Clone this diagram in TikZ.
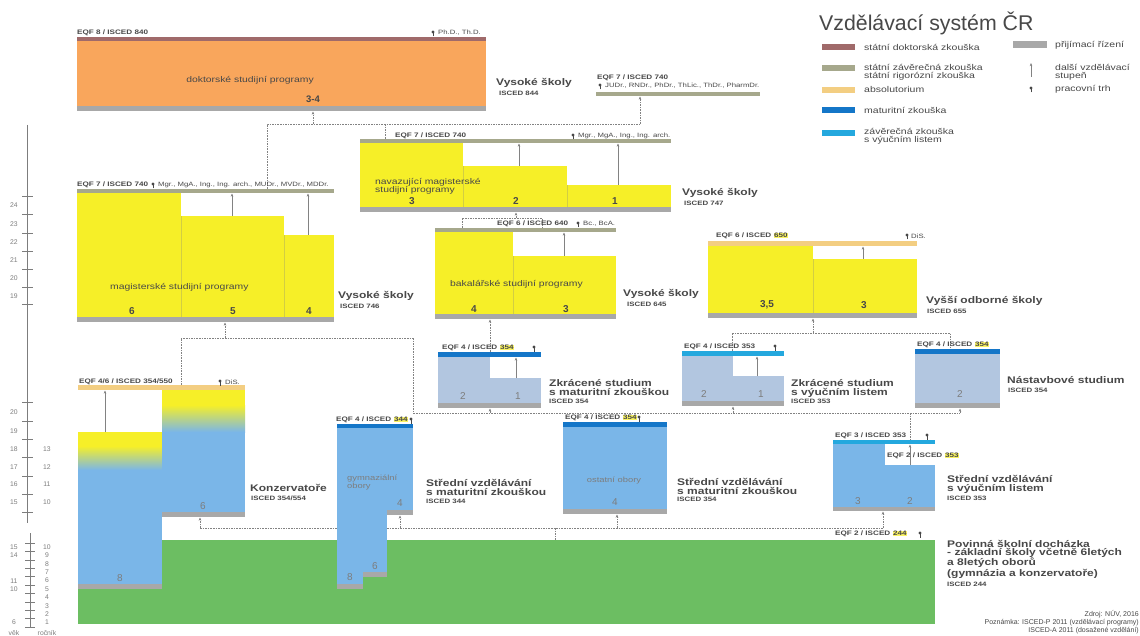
\documentclass[tikz,border=0pt]{standalone}
\usepackage{fontspec}
\setmainfont{Liberation Sans}
\newfontfamily\siroke[FakeStretch=1.25]{Liberation Sans}
\usepackage{xcolor}
\usetikzlibrary{positioning,arrows.meta,calc}
\definecolor{ink}{RGB}{72,72,72}
\definecolor{inklight}{RGB}{125,125,125}
\definecolor{doktor}{RGB}{160,106,106}
\definecolor{statni}{RGB}{166,168,140}
\definecolor{absol}{RGB}{243,206,130}
\definecolor{matur}{RGB}{20,118,200}
\definecolor{vyucni}{RGB}{36,168,222}
\definecolor{prijem}{RGB}{168,168,168}
\definecolor{phdfill}{RGB}{249,166,92}
\definecolor{vsfill}{RGB}{246,239,40}
\definecolor{ssfill}{RGB}{122,182,232}
\definecolor{zkfill}{RGB}{178,198,224}
\definecolor{zsfill}{RGB}{108,190,98}
\definecolor{hlfill}{RGB}{250,244,100}
\definecolor{linka}{RGB}{130,130,130}
\newcommand{\hl}[1]{{\setlength{\fboxsep}{0.5pt}\colorbox{hlfill}{#1}}}
\tikzset{
  eqf/.style={anchor=west, inner sep=0pt, font=\siroke\fontsize{6.5}{7}\selectfont\bfseries, text=ink},
  drobne/.style={anchor=west, inner sep=0pt, font=\siroke\fontsize{6.2}{7}\selectfont, text=ink},
  skola/.style={anchor=west, inner sep=0pt, align=left, font=\siroke\fontsize{9.6}{9}\selectfont\bfseries, text=ink},
  isced/.style={anchor=west, inner sep=0pt, font=\siroke\fontsize{6.3}{6}\selectfont\bfseries, text=ink},
  roky/.style={inner sep=0pt, font=\fontsize{10}{10}\selectfont\bfseries, text=ink},
  rokysv/.style={inner sep=0pt, font=\fontsize{10}{10}\selectfont, text=inklight},
  program/.style={anchor=west, inner sep=0pt, align=left, font=\siroke\fontsize{8.3}{8.3}\selectfont, text=ink},
  programsv/.style={anchor=west, inner sep=0pt, align=left, font=\siroke\fontsize{7.5}{6}\selectfont, text=inklight},
  legenda/.style={anchor=west, inner sep=0pt, align=left, font=\siroke\fontsize{8.4}{8}\selectfont, text=ink},
  osa/.style={line width=0.5pt, draw=inklight},
  osanum/.style={inner sep=0pt, font=\fontsize{6.8}{7}\selectfont, text=inklight},
  linka/.style={line width=0.5pt, draw=linka, dash pattern=on 1.6pt off 1pt},
  vzhuru/.style={linka, -{Stealth[length=3.2pt,width=2.6pt]}},
  sipka/.style={line width=0.5pt, draw=linka, -{Stealth[length=3.2pt,width=2.6pt]}},
  predel/.style={line width=0.4pt, draw=vsfill!70!gray},
  trh/.pic={\draw[ink, line width=0.6pt] (0,3.5) -- (0,0); \fill[ink] (0,-1) circle (1.6);},
}
\begin{document}
\begin{tikzpicture}[x=1pt,y=-1pt]
  \useasboundingbox (0,0) rectangle (1140,636);
  \fill[white] (0,0) rectangle (1140,636);

  % nadpis a legenda
  \node[anchor=west, inner sep=0pt, font=\fontsize{21.3}{22}\selectfont, text=ink] (nadpis) at (819,23) {Vzdělávací systém ČR};
  \fill[doktor] (822,44) rectangle (855,50);
  \node[legenda] (lg1) at (864,47) {státní doktorská zkouška};
  \fill[statni] (822,65) rectangle (855,71);
  \node[legenda] (lg2) at (864,72) {státní závěrečná zkouška\\státní rigorózní zkouška};
  \fill[absol] (822,87) rectangle (855,93);
  \node[legenda] (lg3) at (864,90) {absolutorium};
  \fill[matur] (822,107) rectangle (855,113);
  \node[legenda] (lg4) at (864,110) {maturitní zkouška};
  \fill[vyucni] (822,130) rectangle (855,136);
  \node[legenda] (lg5) at (864,136) {závěrečná zkouška\\s výučním listem};
  \fill[prijem] (1013,41) rectangle (1047,48);
  \node[legenda] (lg6) at (1055,45) {přijímací řízení};
  \coordinate (lgdole) at (1031,77);
  \coordinate (lgnahore) at (1031,63);
  \draw[sipka] (lgdole) -- (lgnahore);
  \node[legenda] (lg7) at (1055,72) {další vzdělávací\\stupeň};
  \pic at (1031,89) {trh};
  \node[legenda] (lg8) at (1055,89) {pracovní trh};

  % osy
  \draw[osa] (27,125) -- (27,523);
  \foreach \y in {196,214,233,251,269,287,304,402,421,439,457,476,494,512}
    \draw[osa] (22,\y) -- (33,\y);
  \foreach \v/\y in {24/205,23/224,22/242,21/260,20/278,19/296,20/412,19/431,18/449,17/467,16/484,15/502}
    \node[osanum] (vek\y) at (14,\y) {\v};
  \foreach \v/\y in {13/449,12/467,11/484,10/502}
    \node[osanum] (roc\y) at (47,\y) {\v};
  \draw[osa] (30,533) -- (30,628);
  \foreach \k in {0,...,10}
    \draw[osa] (25,{543+8.4*\k}) -- (35,{543+8.4*\k});
  \foreach \v/\y in {15/547,14/555,11/581,10/589,6/622}
    \node[osanum] (zvek\y) at (14,\y) {\v};
  \foreach \r in {1,...,10}
    \node[osanum] (zroc\r) at (47,{622.6-8.4*(\r-1)}) {\r};
  \node[osanum] (vek) at (14,633) {věk};
  \node[osanum] (rocnik) at (47,633) {ročník};

  % spojnice
  \coordinate (j1) at (267,124);   \coordinate (j2) at (313,124);
  \coordinate (j3) at (385,124);   \coordinate (j4) at (640,124);
  \coordinate (mgrout) at (267,189); \coordinate (phdin) at (313,111.5);
  \coordinate (navout) at (385,139); \coordinate (judrin) at (640,96.5);
  \draw[linka] (mgrout) -- (j1) -- (j4);
  \draw[linka] (j3) -- (navout);
  \draw[vzhuru] (j2) -- (phdin);
  \draw[vzhuru] (j4) -- (judrin);
  \coordinate (b1) at (462,228); \coordinate (b2) at (462,218);
  \coordinate (b3) at (542,218); \coordinate (b4) at (542,228);
  \coordinate (b5) at (516,218); \coordinate (navin) at (516,212.5);
  \draw[linka] (b1) -- (b2) -- (b3) -- (b4);
  \draw[vzhuru] (b5) -- (navin);
  \coordinate (k1) at (181,338); \coordinate (k2) at (225,338); \coordinate (k3) at (413,338);
  \coordinate (konzout) at (181,385); \coordinate (mgrin) at (225,322.5);
  \draw[linka] (konzout) -- (k1) -- (k3);
  \draw[vzhuru] (k2) -- (mgrin);
  \coordinate (zk1out) at (490,352); \coordinate (bcin) at (490,319.5);
  \draw[vzhuru] (zk1out) -- (bcin);
  \coordinate (v1) at (732,333); \coordinate (v2) at (813,333); \coordinate (v3) at (950,333);
  \coordinate (zk2out) at (732,351); \coordinate (vosin) at (813,318.5); \coordinate (nasout) at (950,349);
  \draw[linka] (zk2out) -- (v1) -- (v3) -- (nasout);
  \draw[vzhuru] (v2) -- (vosin);
  \coordinate (s1) at (413,413); \coordinate (s2) at (490,413); \coordinate (s3) at (733,413);
  \coordinate (s4) at (910,413); \coordinate (s5) at (960,413);
  \coordinate (zk1in) at (490,408.5); \coordinate (zk2in) at (733,406.5);
  \coordinate (nasin) at (960,408.5); \coordinate (ucout) at (910,440);
  \draw[linka] (k3) -- (s1) -- (s5);
  \draw[linka] (s4) -- (ucout);
  \draw[vzhuru] (s2) -- (zk1in);
  \draw[vzhuru] (s3) -- (zk2in);
  \draw[vzhuru] (s5) -- (nasin);
  \coordinate (p1) at (200,528); \coordinate (p2) at (400,528); \coordinate (p3) at (555,528);
  \coordinate (p4) at (617,528); \coordinate (p5) at (883,528); \coordinate (zsout) at (555,540);
  \coordinate (konzin) at (200,517.5); \coordinate (gymin) at (400,515.5);
  \coordinate (ostin) at (617,514.5); \coordinate (ucin) at (883,511.5);
  \draw[linka] (p1) -- (p5);
  \draw[linka] (p3) -- (zsout);
  \draw[vzhuru] (p1) -- (konzin);
  \draw[vzhuru] (p2) -- (gymin);
  \draw[vzhuru] (p4) -- (ostin);
  \draw[vzhuru] (p5) -- (ucin);

  % doktorske
  \fill[doktor] (77,37) rectangle (486,41);
  \fill[phdfill] (77,41) rectangle (486,106);
  \fill[prijem] (77,106) rectangle (486,111);
  \node[eqf] (phdeqf) at (77,33) {EQF 8 / ISCED 840};
  \pic at (433,33) {trh};
  \node[drobne] (phdtit) at (438,33) {Ph.D., Th.D.};
  \node[program, anchor=center] (phdprog) at (250,80) {doktorské studijní programy};
  \node[roky, font=\fontsize{9.5}{9}\selectfont\bfseries] (phdroky) at (313,99) {3-4};
  \node[skola] (phdvs) at (496,83) {Vysoké školy};
  \node[isced] (phdis) at (499,93) {ISCED 844};

  % JUDr.
  \fill[statni] (596,92) rectangle (760,96);
  \node[eqf] (rigeqf) at (597,78) {EQF 7 / ISCED 740};
  \pic at (600,86) {trh};
  \node[drobne] (rigtit) at (605,86) {JUDr., RNDr., PhDr., ThLic., ThDr., PharmDr.};

  % navazujici magisterske
  \fill[statni] (360,139) rectangle (671,143);
  \fill[vsfill] (360,143) rectangle (463,207);
  \fill[vsfill] (463,166) rectangle (567,207);
  \fill[vsfill] (567,185) rectangle (671,207);
  \draw[predel] (463,166) -- (463,207);
  \draw[predel] (567,185) -- (567,207);
  \fill[prijem] (360,207) rectangle (671,212);
  \coordinate (nav2) at (519,166); \coordinate (nav2t) at (519,143.5);
  \coordinate (nav1) at (618,185); \coordinate (nav1t) at (618,143.5);
  \draw[sipka] (nav2) -- (nav2t);
  \draw[sipka] (nav1) -- (nav1t);
  \node[eqf] (naveqf) at (395,136) {EQF 7 / ISCED 740};
  \pic at (573,136) {trh};
  \node[drobne] (navtit) at (578,136) {Mgr., MgA., Ing., Ing. arch.};
  \node[program] (navprog) at (375,186) {navazující magisterské\\studijní programy};
  \node[roky] (navr3) at (412,201) {3};
  \node[roky] (navr2) at (516,201) {2};
  \node[roky] (navr1) at (615,201) {1};
  \node[skola] (navvs) at (682,193) {Vysoké školy};
  \node[isced] (navis) at (684,203) {ISCED 747};

  % bakalarske
  \fill[statni] (435,228) rectangle (616,232);
  \fill[vsfill] (435,232) rectangle (513,314);
  \fill[vsfill] (513,256) rectangle (616,314);
  \draw[predel] (513,256) -- (513,314);
  \fill[prijem] (435,314) rectangle (616,319);
  \coordinate (bc3) at (564,256); \coordinate (bc3t) at (564,232.5);
  \draw[sipka] (bc3) -- (bc3t);
  \node[eqf] (bceqf) at (497,224) {EQF 6 / ISCED 640};
  \pic at (578,224) {trh};
  \node[drobne] (bctit) at (583,224) {Bc., BcA.};
  \node[program] (bcprog) at (450,284) {bakalářské studijní programy};
  \node[roky] (bcr4) at (474,309) {4};
  \node[roky] (bcr3) at (566,309) {3};
  \node[skola] (bcvs) at (623,294) {Vysoké školy};
  \node[isced] (bcis) at (627,304) {ISCED 645};

  % magisterske
  \fill[statni] (77,189) rectangle (334,193);
  \fill[vsfill] (77,193) rectangle (181,317);
  \fill[vsfill] (181,216) rectangle (284,317);
  \fill[vsfill] (284,235) rectangle (334,317);
  \draw[predel] (181,216) -- (181,317);
  \draw[predel] (284,235) -- (284,317);
  \fill[prijem] (77,317) rectangle (334,322);
  \coordinate (mgr5) at (232,216); \coordinate (mgr5t) at (232,193.5);
  \coordinate (mgr4) at (308,235); \coordinate (mgr4t) at (308,193.5);
  \draw[sipka] (mgr5) -- (mgr5t);
  \draw[sipka] (mgr4) -- (mgr4t);
  \node[eqf] (mgreqf) at (77,185) {EQF 7 / ISCED 740};
  \pic at (153,185) {trh};
  \node[drobne] (mgrtit) at (158,185) {Mgr., MgA., Ing., Ing. arch., MUDr., MVDr., MDDr.};
  \node[program] (mgrprog) at (110,287) {magisterské studijní programy};
  \node[roky] (mgrr6) at (132,311) {6};
  \node[roky] (mgrr5) at (233,311) {5};
  \node[roky] (mgrr4) at (309,311) {4};
  \node[skola] (mgrvs) at (338,296) {Vysoké školy};
  \node[isced] (mgris) at (340,306) {ISCED 746};

  % vyssi odborne
  \fill[absol] (708,241) rectangle (917,246);
  \fill[vsfill] (708,246) rectangle (813,313);
  \fill[vsfill] (813,259) rectangle (917,313);
  \draw[predel] (813,259) -- (813,313);
  \fill[prijem] (708,313) rectangle (917,318);
  \coordinate (vos3) at (863,259); \coordinate (vos3t) at (863,246.5);
  \draw[sipka] (vos3) -- (vos3t);
  \node[eqf] (voseqf) at (716,236) {EQF 6 / ISCED \hl{650}};
  \pic at (907,236) {trh};
  \node[drobne] (vostit) at (911,236) {DiS.};
  \node[roky] (vosr35) at (767,305) {3,5};
  \node[roky] (vosr3) at (864,305) {3};
  \node[skola] (vosvs) at (926,301) {Vyšší odborné školy};
  \node[isced] (vosis) at (927,311) {ISCED 655};

  % zkracene studium s maturitni zkouskou
  \fill[matur] (438,352) rectangle (541,357);
  \fill[zkfill] (438,357) rectangle (490,403);
  \fill[zkfill] (490,378) rectangle (541,403);
  \fill[prijem] (438,403) rectangle (541,408);
  \coordinate (zka1) at (516,378); \coordinate (zka1t) at (516,357.5);
  \draw[sipka] (zka1) -- (zka1t);
  \node[eqf] (zkaeqf) at (442,348) {EQF 4 / ISCED \hl{354}};
  \pic at (534,348) {trh};
  \node[rokysv] (zkar2) at (463,396) {2};
  \node[rokysv] (zkar1) at (518,396) {1};
  \node[skola] (zkass) at (549,388) {Zkrácené studium\\s maturitní zkouškou};
  \node[isced] (zkais) at (549,401) {ISCED 354};

  % zkracene studium s vyucnim listem
  \fill[vyucni] (682,351) rectangle (784,356);
  \fill[zkfill] (682,356) rectangle (733,401);
  \fill[zkfill] (733,376) rectangle (784,401);
  \fill[prijem] (682,401) rectangle (784,406);
  \coordinate (zkb1) at (757,376); \coordinate (zkb1t) at (757,356.5);
  \draw[sipka] (zkb1) -- (zkb1t);
  \node[eqf] (zkbeqf) at (684,347) {EQF 4 / ISCED 353};
  \pic at (775,347) {trh};
  \node[rokysv] (zkbr2) at (704,394) {2};
  \node[rokysv] (zkbr1) at (761,394) {1};
  \node[skola] (zkbss) at (791,388) {Zkrácené studium\\s výučním listem};
  \node[isced] (zkbis) at (791,401) {ISCED 353};

  % nastavbove studium
  \fill[matur] (915,349) rectangle (1000,354);
  \fill[zkfill] (915,354) rectangle (1000,403);
  \fill[prijem] (915,403) rectangle (1000,408);
  \node[eqf] (naseqf) at (917,345) {EQF 4 / ISCED \hl{354}};
  \node[rokysv] (nasr2) at (960,394) {2};
  \node[skola] (nasss) at (1007,380) {Nástavbové studium};
  \node[isced] (nasis) at (1008,390) {ISCED 354};

  % povinna skolni dochazka
  \fill[zsfill] (78,540) rectangle (935,624);
  \node[eqf] (zseqf) at (835,534) {EQF 2 / ISCED \hl{244}};
  \pic at (920,534) {trh};
  \node[skola, font=\siroke\fontsize{9.6}{8.2}\selectfont\bfseries] (zsss) at (947,559) {Povinná školní docházka\\- základní školy včetně 6letých\\a 8letých oborů\\(gymnázia a konzervatoře)};
  \node[isced] (zsis) at (947,584) {ISCED 244};

  % konzervatore
  \fill[absol] (78,385) rectangle (245,390);
  \fill[vsfill] (78,432) rectangle (162,446);
  \shade[top color=vsfill, bottom color=ssfill] (78,446) rectangle (162,470);
  \fill[ssfill] (78,470) rectangle (162,584);
  \fill[prijem] (78,584) rectangle (162,589);
  \fill[vsfill] (162,390) rectangle (245,405);
  \shade[top color=vsfill, bottom color=ssfill] (162,405) rectangle (245,432);
  \fill[ssfill] (162,432) rectangle (245,512);
  \fill[prijem] (162,512) rectangle (245,517);
  \coordinate (konz8) at (105,432); \coordinate (konz8t) at (105,390.5);
  \draw[sipka] (konz8) -- (konz8t);
  \node[eqf] (konzeqf) at (79,382) {EQF 4/6 / ISCED 354/550};
  \pic at (220,382) {trh};
  \node[drobne] (konztit) at (225,382) {DiS.};
  \node[rokysv] (konzr8) at (120,578) {8};
  \node[rokysv] (konzr6) at (203,506) {6};
  \node[skola] (konzss) at (250,488) {Konzervatoře};
  \node[isced] (konzis) at (251,498) {ISCED 354/554};

  % gymnazia
  \fill[matur] (337,424) rectangle (413,428);
  \fill[ssfill] (337,428) rectangle (413,510);
  \fill[ssfill] (337,510) rectangle (387,572);
  \fill[ssfill] (337,572) rectangle (363,584);
  \fill[prijem] (387,510) rectangle (413,515);
  \fill[prijem] (363,572) rectangle (387,577);
  \fill[prijem] (337,584) rectangle (363,589);
  \node[eqf] (gymeqf) at (336,420) {EQF 4 / ISCED \hl{344}};
  \pic at (411,420) {trh};
  \node[programsv] (gymprog) at (347,483) {gymnaziální\\obory};
  \node[rokysv] (gymr4) at (400,503) {4};
  \node[rokysv] (gymr6) at (375,566) {6};
  \node[rokysv] (gymr8) at (350,577) {8};
  \node[skola] (gymss) at (426,487) {Střední vzdělávání\\s maturitní zkouškou};
  \node[isced] (gymis) at (426,501) {ISCED 344};

  % ostatni obory
  \fill[matur] (563,422) rectangle (667,427);
  \fill[ssfill] (563,427) rectangle (667,509);
  \fill[prijem] (563,509) rectangle (667,514);
  \node[eqf] (osteqf) at (565,418) {EQF 4 / ISCED \hl{354}};
  \pic at (639,418) {trh};
  \node[programsv, anchor=center] (ostprog) at (614,481) {ostatní obory};
  \node[rokysv] (ostr4) at (615,502) {4};
  \node[skola] (ostss) at (677,486) {Střední vzdělávání\\s maturitní zkouškou};
  \node[isced] (ostis) at (677,499) {ISCED 354};

  % vyucni list
  \fill[vyucni] (833,440) rectangle (935,444);
  \fill[ssfill] (833,444) rectangle (885,507);
  \fill[ssfill] (885,465) rectangle (935,507);
  \fill[prijem] (833,507) rectangle (935,511);
  \coordinate (uc2) at (910,465); \coordinate (uc2t) at (910,444.5);
  \draw[sipka] (uc2) -- (uc2t);
  \node[eqf] (uceqf) at (835,436) {EQF 3 / ISCED 353};
  \pic at (927,436) {trh};
  \node[eqf] (uceqf2) at (887,456) {EQF 2 / ISCED \hl{353}};
  \node[rokysv] (ucr3) at (858,501) {3};
  \node[rokysv] (ucr2) at (910,501) {2};
  \node[skola] (ucss) at (947,484) {Střední vzdělávání\\s výučním listem};
  \node[isced] (ucis) at (947,498) {ISCED 353};

  % zdroj
  \node[anchor=east, inner sep=0pt, font=\fontsize{7}{8}\selectfont, text=ink] (zdroj) at (1139,614) {Zdroj: NÚV, 2016};
  \node[anchor=east, inner sep=0pt, font=\fontsize{7}{8}\selectfont, text=ink] (pozn1) at (1139,623) {Poznámka: ISCED-P 2011 (vzdělávací programy)};
  \node[anchor=east, inner sep=0pt, font=\fontsize{7}{8}\selectfont, text=ink] (pozn2) at (1139,631) {ISCED-A 2011 (dosažené vzdělání)};
\end{tikzpicture}
\end{document}
